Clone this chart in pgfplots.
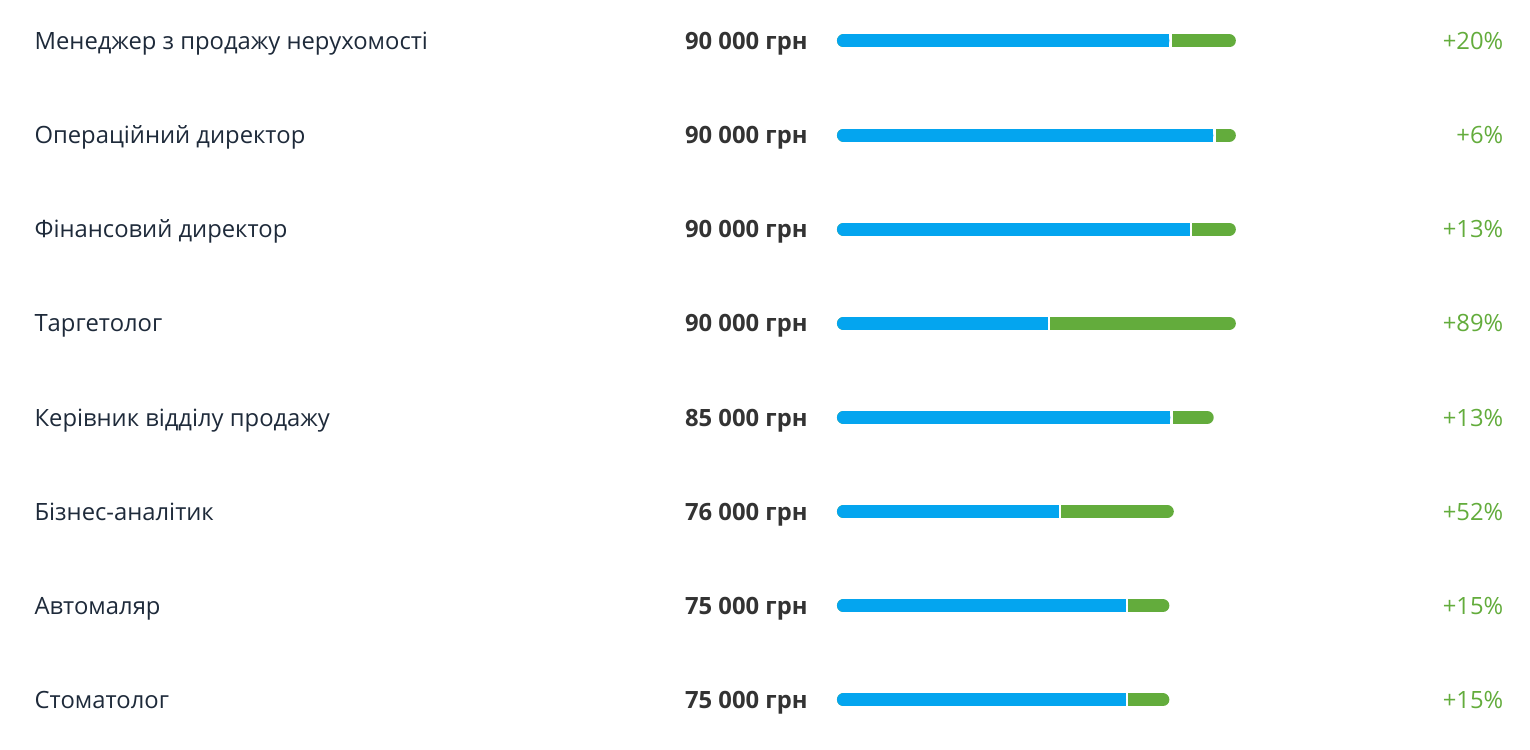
\documentclass[border=0pt]{standalone}
\usepackage{fontspec}
\setmainfont{Open Sans}
\usepackage{pgfplots}
\pgfplotsset{compat=1.18}
\definecolor{barblue}{RGB}{4,165,239}
\definecolor{bargreen}{RGB}{99,172,60}
\definecolor{labtext}{RGB}{30,42,58}
\definecolor{valtext}{RGB}{51,51,51}
% one bar: #1 row, #2 previous level, #3 current level
\newcommand{\growthbar}[3]{%
  \addplot[bargreen, line width=6.5pt, line cap=round, shorten <=3.25pt, shorten >=3.25pt] coordinates {(0,#1) (#3,#1)};
  \addplot[white, line width=7pt, line cap=butt, shorten <=3.25pt, shorten >=-1.1pt] coordinates {(0,#1) (#2,#1)};
  \addplot[barblue, line width=6.5pt, line cap=round, shorten <=3.25pt, shorten >=3.25pt] coordinates {(0,#1) (#2,#1)};
  \addplot[barblue, line width=6.5pt, line cap=butt, shorten <=3.25pt] coordinates {(0,#1) (#2,#1)};
}
\begin{document}
\begin{tikzpicture}
\begin{axis}[
  width=765pt, height=375pt, scale only axis,
  xmin=-188797, xmax=156316,
  ymin=-0.4355, ymax=7.531, y dir=reverse,
  axis line style={draw=none},
  xtick=\empty,
  ytick={0,...,7},
  major tick length=0pt,
  yticklabels={Менеджер з продажу нерухомості, Операційний директор, Фінансовий директор, Таргетолог, Керівник відділу продажу, Бізнес-аналітик, Автомаляр, Стоматолог},
  yticklabel style={anchor=base west, inner sep=0pt, xshift=17pt, yshift=-4.3pt, font=\fontsize{11.9pt}{14pt}\selectfont, text=labtext},
  clip=false,
  no markers,
]
\growthbar{0}{75000}{90000}
\growthbar{1}{84906}{90000}
\growthbar{2}{79646}{90000}
\growthbar{3}{47619}{90000}
\growthbar{4}{75221}{85000}
\growthbar{5}{50000}{76000}
\growthbar{6}{65217}{75000}
\growthbar{7}{65217}{75000}
% salary values
\addplot[draw=none, only marks, mark=none, nodes near coords, point meta=explicit symbolic,
  nodes near coords style={anchor=base east, inner sep=0pt, yshift=-4.3pt, text=valtext, font=\fontsize{11.9pt}{14pt}\selectfont\bfseries}]
  coordinates {(-6541,0) [90 000 грн] (-6541,1) [90 000 грн] (-6541,2) [90 000 грн] (-6541,3) [90 000 грн]
               (-6541,4) [85 000 грн] (-6541,5) [76 000 грн] (-6541,6) [75 000 грн] (-6541,7) [75 000 грн]};
% growth percentages
\addplot[draw=none, only marks, mark=none, nodes near coords, point meta=explicit symbolic,
  nodes near coords style={anchor=base east, inner sep=0pt, yshift=-4.3pt, text=bargreen, font=\fontsize{11.9pt}{14pt}\selectfont}]
  coordinates {(150400,0) [+20\%] (150400,1) [+6\%] (150400,2) [+13\%] (150400,3) [+89\%]
               (150400,4) [+13\%] (150400,5) [+52\%] (150400,6) [+15\%] (150400,7) [+15\%]};
\end{axis}
\end{tikzpicture}
\end{document}
